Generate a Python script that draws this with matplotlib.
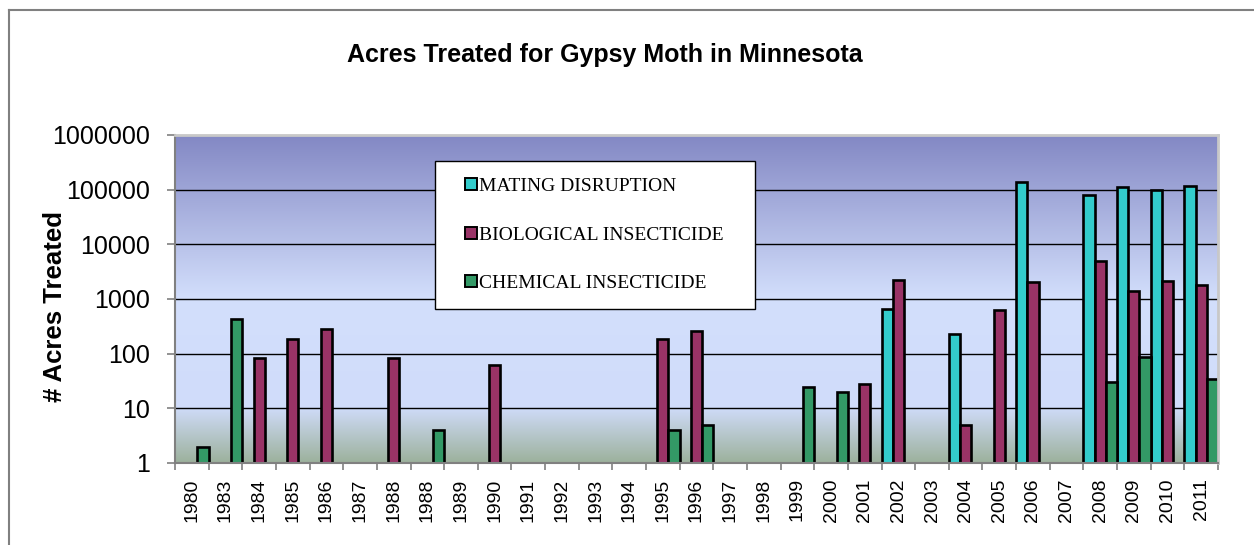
import numpy as np
import matplotlib
matplotlib.use("Agg")
import matplotlib.pyplot as plt
from matplotlib.lines import Line2D
from matplotlib.ticker import FixedLocator, FixedFormatter, NullFormatter

# ---- data -------------------------------------------------------------
years = ["1980", "1983", "1984", "1985", "1986", "1987", "1988", "1988",
         "1989", "1990", "1991", "1992", "1993", "1994", "1995", "1996",
         "1997", "1998", "1999", "2000", "2001", "2002", "2003", "2004",
         "2005", "2006", "2007", "2008", "2009", "2010", "2011"]

mating = [None, None, None, None, None, None, None, None,
          None, None, None, None, None, None, None, None,
          None, None, None, None, None, 646, None, 228,
          None, 139000, None, 81500, 110000, 99000, 116000]

biological = [None, None, 83, 189, 286, None, 85, None,
              None, 61, None, None, None, None, 189, 263,
              None, None, None, None, 28, 2250, None, 5,
              640, 2080, None, 5000, 1400, 2140, 1800]

chemical = [2, 436, None, None, None, None, None, 4,
            None, None, None, None, None, None, 4, 5,
            None, None, 25, 20, None, None, None, None,
            None, None, None, 30, 88, None, 35]

series_names = ["MATING DISRUPTION", "BIOLOGICAL INSECTICIDE", "CHEMICAL INSECTICIDE"]
series_colors = ["#33CCCC", "#993366", "#339966"]
ytick_values = [1, 10, 100, 1000, 10000, 100000, 1000000]
ytick_labels = ["1", "10", "100", "1000", "10000", "100000", "1000000"]
title = "Acres Treated for Gypsy Moth in Minnesota"
ylabel = "# Acres Treated"

# ---- figure -----------------------------------------------------------
W, H = 1254, 545
fig = plt.figure(figsize=(W / 100, H / 100), dpi=100)
fig.patch.set_facecolor("white")

L, R, T, B = 175, 1218, 135, 463
ax = fig.add_axes([L / W, (H - B) / H, (R - L) / W, (B - T) / H])

# gradient background
stops = np.array([0.0, 0.17, 0.50, 1.0])
cols = np.array([[156, 177, 156],
                 [208, 220, 250],
                 [211, 223, 252],
                 [131, 136, 196]]) / 255.0
yy = np.linspace(0, 1, 400)
grad = np.stack([np.interp(yy, stops, cols[:, c]) for c in range(3)], axis=1)
grad = grad[::-1][:, None, :]
ax.imshow(grad, extent=[0, 1, 0, 1], transform=ax.transAxes,
          aspect="auto", zorder=0, interpolation="bilinear")

x = np.arange(len(years))
w = 1 / 3
for k, (vals, name, col) in enumerate(zip([mating, biological, chemical],
                                          series_names, series_colors)):
    v = np.array([np.nan if a is None else a for a in vals], dtype=float)
    m = ~np.isnan(v)
    ax.bar(x[m] + (k - 1) * w, v[m], width=w, color=col, edgecolor="black",
           linewidth=1.9, zorder=3, label=name)

ax.set_yscale("log")
ax.set_ylim(1, 1e6)
ax.set_xlim(-0.5, len(years) - 0.5)

ax.yaxis.set_major_locator(FixedLocator(ytick_values))
ax.yaxis.set_major_formatter(FixedFormatter(ytick_labels))
ax.yaxis.set_minor_locator(FixedLocator([]))
ax.yaxis.set_minor_formatter(NullFormatter())
for v in ytick_values[1:-1]:
    ax.axhline(v, color="black", linewidth=1.0, zorder=1)

ax.set_xticks(x)
ax.set_xticklabels(years, rotation=90, fontsize=14, family="Liberation Sans")
ax.set_xticks(np.arange(-0.5, len(years)), minor=True)
ax.tick_params(axis="x", which="major", length=0, pad=11)
ax.tick_params(axis="x", which="minor", length=5, width=1.2, color="#808080")
ax.tick_params(axis="y", which="major", length=6, width=1.2, color="#808080", pad=12)
for lab in ax.get_yticklabels():
    lab.set_fontsize(18)
    lab.set_family("Liberation Sans")

ax.spines["left"].set_color("#808080")
ax.spines["bottom"].set_color("#808080")
ax.spines["left"].set_linewidth(1.5)
ax.spines["bottom"].set_linewidth(1.5)
ax.spines["top"].set_color("#C8C8C8")
ax.spines["right"].set_color("#C8C8C8")
ax.spines["top"].set_linewidth(2)
ax.spines["right"].set_linewidth(2)
for s in ax.spines.values():
    s.set_zorder(4)

ax.set_ylabel(ylabel, fontsize=18.5, fontweight="bold", family="Liberation Sans")
ax.yaxis.set_label_coords((67 - L) / (R - L), (B - 307) / (B - T))

fig.text(605 / W, (H - 55) / H, title, ha="center", va="center",
         fontsize=18, fontweight="bold", family="Liberation Sans")

# legend
handles = [Line2D([], [], linestyle="none", marker="s", markersize=8.6,
                  markerfacecolor=c, markeredgecolor="black", markeredgewidth=1.4)
           for c in series_colors]
lx0, lx1, ly0, ly1 = 434.7, 755, 160.7, 307.7
leg = ax.legend(handles, series_names, loc="upper left",
                bbox_to_anchor=((lx0 - L) / (R - L), (B - ly1) / (B - T),
                                (lx1 - lx0) / (R - L), (ly1 - ly0) / (B - T)),
                mode="expand", borderaxespad=0, borderpad=0.85, labelspacing=1.6,
                handlelength=2.05, handletextpad=-0.62, fancybox=False,
                framealpha=1, edgecolor="black",
                prop={"family": "Liberation Serif", "size": 14})
leg.get_frame().set_linewidth(1.0)
leg.set_zorder(5)

# outer figure border
fig.add_artist(Line2D([8.5 / W, 8.5 / W], [0, (H - 10) / H], color="#808080",
                      linewidth=1.5, transform=fig.transFigure))
fig.add_artist(Line2D([8.5 / W, 1.0], [(H - 10) / H, (H - 10) / H], color="#808080",
                      linewidth=1.5, transform=fig.transFigure))

fig.savefig("out.png", dpi=100)
